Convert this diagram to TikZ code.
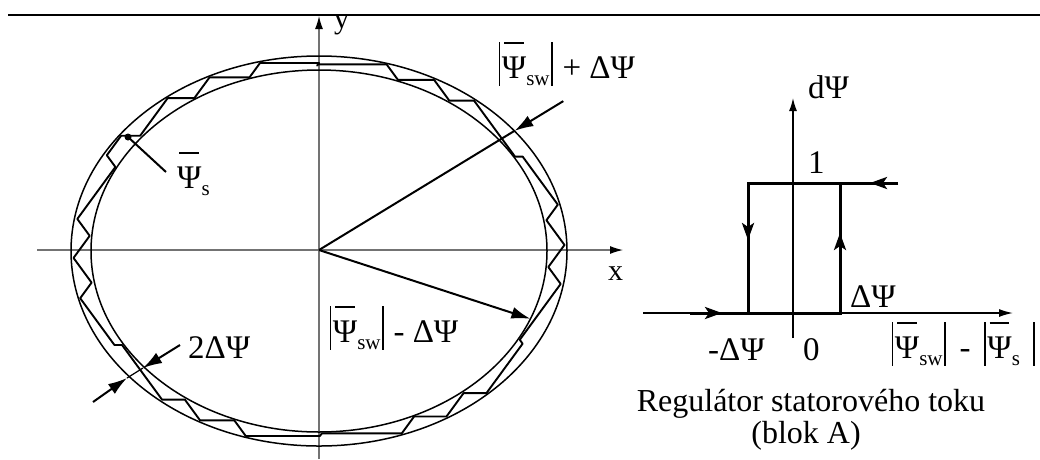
\documentclass[tikz,border=0pt]{standalone}
\usepackage{fontspec}
\setmainfont{Liberation Serif}
\usetikzlibrary{arrows.meta}
\definecolor{axg}{gray}{0.45}
\newcommand\absb{\kern0.05em\rule[-0.24em]{1.4pt}{1.32em}\kern0.05em}
\newcommand\Psb{\ooalign{Ψ\cr\hidewidth\rule[1.03em]{0.6em}{1.6pt}\hidewidth\cr}}
\newcommand\sbs[1]{\raisebox{-7pt}{\fontsize{21}{21}\selectfont #1}}
\tikzset{
  lbl/.style={inner sep=0pt, anchor=base west, font=\fontsize{33}{36}\selectfont},
  clbl/.style={inner sep=0pt, anchor=base, font=\fontsize{32}{36}\selectfont},
  axisl/.style={line width=1.2pt, draw=axg},
  axarr/.style={-{Latex[length=13pt,width=8pt,color=black]}},
  ell/.style={line width=1.5pt},
  traj/.style={line width=1.9pt, line join=round},
  ray/.style={line width=2pt},
  bigarr/.style={-{Latex[length=19pt,width=12pt]}},
  hthin/.style={line width=1.5pt},
  hthick/.style={line width=3pt},
  harr/.style={line width=3pt,-{Stealth[length=17pt,width=12pt,inset=4pt]}},
}
\begin{document}
\begin{tikzpicture}[x=1pt,y=-1pt]
\useasboundingbox (0,0) rectangle (1040,459);
% top rule
\coordinate (TL) at (8,15);
\coordinate (TR) at (1040,15);
\draw[line width=1.5pt] (TL) -- (TR);
% ---------- left panel ----------
\coordinate (O) at (319,250);
\coordinate (XL) at (37,250);
\coordinate (XR) at (623,250);
\coordinate (YB) at (319,459);
\coordinate (YT) at (319,16);
\draw[axisl,axarr] (XL) -- (XR);
\draw[axisl,axarr] (YB) -- (YT);
\node[lbl,font=\fontsize{30}{34}\selectfont] (xlab) at (608,280) {x};
\node[lbl,font=\fontsize{30}{34}\selectfont] (ylab) at (334,28) {y};
% ellipses
\coordinate (C) at (319,251);
\draw[ell] (C) ellipse [x radius=248pt, y radius=195pt];
\draw[ell] (C) ellipse [x radius=228pt, y radius=181pt];
% DTC trajectory (simulated hysteresis control)
\xdef\dtcX{0}\xdef\dtcY{1}\xdef\dtcS{1}\xdef\dtcDir{999}%
\xdef\dtcCum{0}\xdef\dtcPrev{90}\xdef\dtcDone{0}\xdef\dtcPts{}%
\foreach \i in {1,...,1300}{%
  \ifnum\dtcDone=0
    \pgfmathsetmacro\dtcT{atan2(\dtcY,\dtcX)}%
    \pgfmathsetmacro\dtcD{\dtcT-\dtcPrev}%
    \pgfmathsetmacro\dtcD{(\dtcD < -180) ? (\dtcD+360) : (\dtcD)}%
    \pgfmathsetmacro\dtcCumN{\dtcCum+\dtcD}\xdef\dtcCum{\dtcCumN}%
    \pgfmathtruncatemacro\dtcK{round(\dtcT/60)}%
    \pgfmathsetmacro\dtcNd{60*\dtcK+120-60*\dtcS}%
    \ifdim\dtcNd pt=\dtcDir pt\else
      \xdef\dtcPts{\dtcPts (\dtcX,\dtcY)}%
      \xdef\dtcDir{\dtcNd}%
    \fi
    \pgfmathsetmacro\dtcXn{\dtcX+0.008*cos(\dtcNd)}%
    \pgfmathsetmacro\dtcYn{\dtcY+0.008*sin(\dtcNd)}%
    \xdef\dtcX{\dtcXn}\xdef\dtcY{\dtcYn}%
    \pgfmathsetmacro\dtcR{sqrt(\dtcX*\dtcX+\dtcY*\dtcY)}%
    \pgfmathtruncatemacro\dtcSn{(\dtcR > 1.029) ? 0 : ((\dtcR < 0.971) ? 1 : \dtcS)}%
    \xdef\dtcS{\dtcSn}%
    \xdef\dtcPrev{\dtcT}%
    \pgfmathtruncatemacro\dtcDn{(\dtcCum >= 360) ? 1 : 0}%
    \xdef\dtcDone{\dtcDn}%
  \fi
}
\xdef\dtcPts{\dtcPts (\dtcX,\dtcY)}%
\begin{scope}[shift={(319,251)}, x=238pt, y=188pt]
  \draw[traj] plot coordinates {\dtcPts} -- cycle;
\end{scope}
% rays
\coordinate (P1) at (514.4,130.9);
\coordinate (Q1) at (563.3,101.1);
\coordinate (P2) at (530.4,318.8);
\draw[ray] (O) -- (P1);
\draw[ray,bigarr] (Q1) -- (P1);
\draw[ray,bigarr] (O) -- (P2);
\node[lbl] (lplus) at (497,78) {\absb\Psb\sbs{sw}\absb\ + ΔΨ};
\node[lbl] (lminus) at (328,342) {\absb\Psb\sbs{sw}\absb\ - ΔΨ};
% Psi_s pointer
\coordinate (Dot) at (128,137);
\coordinate (DotE) at (166,172);
\fill (Dot) circle (3.5pt);
\draw[ray] (Dot) -- (DotE);
\node[lbl] (lpsis) at (177,188) {\Psb\sbs{s}};
% 2 Delta Psi
\coordinate (Ti) at (143,368);
\coordinate (To) at (127,378);
\coordinate (Ai) at (180,345);
\coordinate (Ao) at (93,402);
\draw[line width=1.2pt] (Ti) -- (To);
\draw[ray,bigarr] (Ai) -- (Ti);
\draw[ray,bigarr] (Ao) -- (To);
\node[lbl] (l2d) at (188,358) {2ΔΨ};
% ---------- right panel: hysteresis ----------
\coordinate (HYB) at (793,338);
\coordinate (HYT) at (793,98);
\coordinate (HXL) at (643,313);
\coordinate (HXR) at (1013,313);
\draw[hthin,-{Latex[length=13pt,width=8pt]}] (HYB) -- (HYT);
\draw[hthin,-{Latex[length=14pt,width=8pt]}] (HXL) -- (HXR);
\coordinate (B0) at (690,313);
\coordinate (BL) at (748,313);
\coordinate (BR) at (840,313);
\coordinate (TLc) at (748,183);
\coordinate (TRc) at (840,183);
\coordinate (TE) at (898,183);
\draw[hthick] (B0) -- (BR) -- (TRc);
\draw[hthick] (TE) -- (TLc) -- (BL);
\draw[harr] (B0) -- (722,313);
\draw[harr] (TLc) -- (748,240);
\draw[harr] (840,290) -- (840,233);
\draw[harr] (TE) -- (870,183);
\node[lbl] (ldpsi) at (808,98) {dΨ};
\node[lbl] (lone) at (808,173) {1};
\node[lbl] (ldp) at (850,307) {ΔΨ};
\node[lbl] (lmdp) at (708,360) {-ΔΨ};
\node[lbl] (lzero) at (803,360) {0};
\node[lbl] (lxax) at (890,358) {\absb\Psb\sbs{sw}\absb\kern0.12em\ -\kern0.12em\ \absb\Psb\sbs{s}\kern0.35em\absb};
\node[clbl] (lreg) at (811,411) {Regulátor statorového toku};
\node[clbl] (lblok) at (806,443) {(blok A)};
\end{tikzpicture}
\end{document}
